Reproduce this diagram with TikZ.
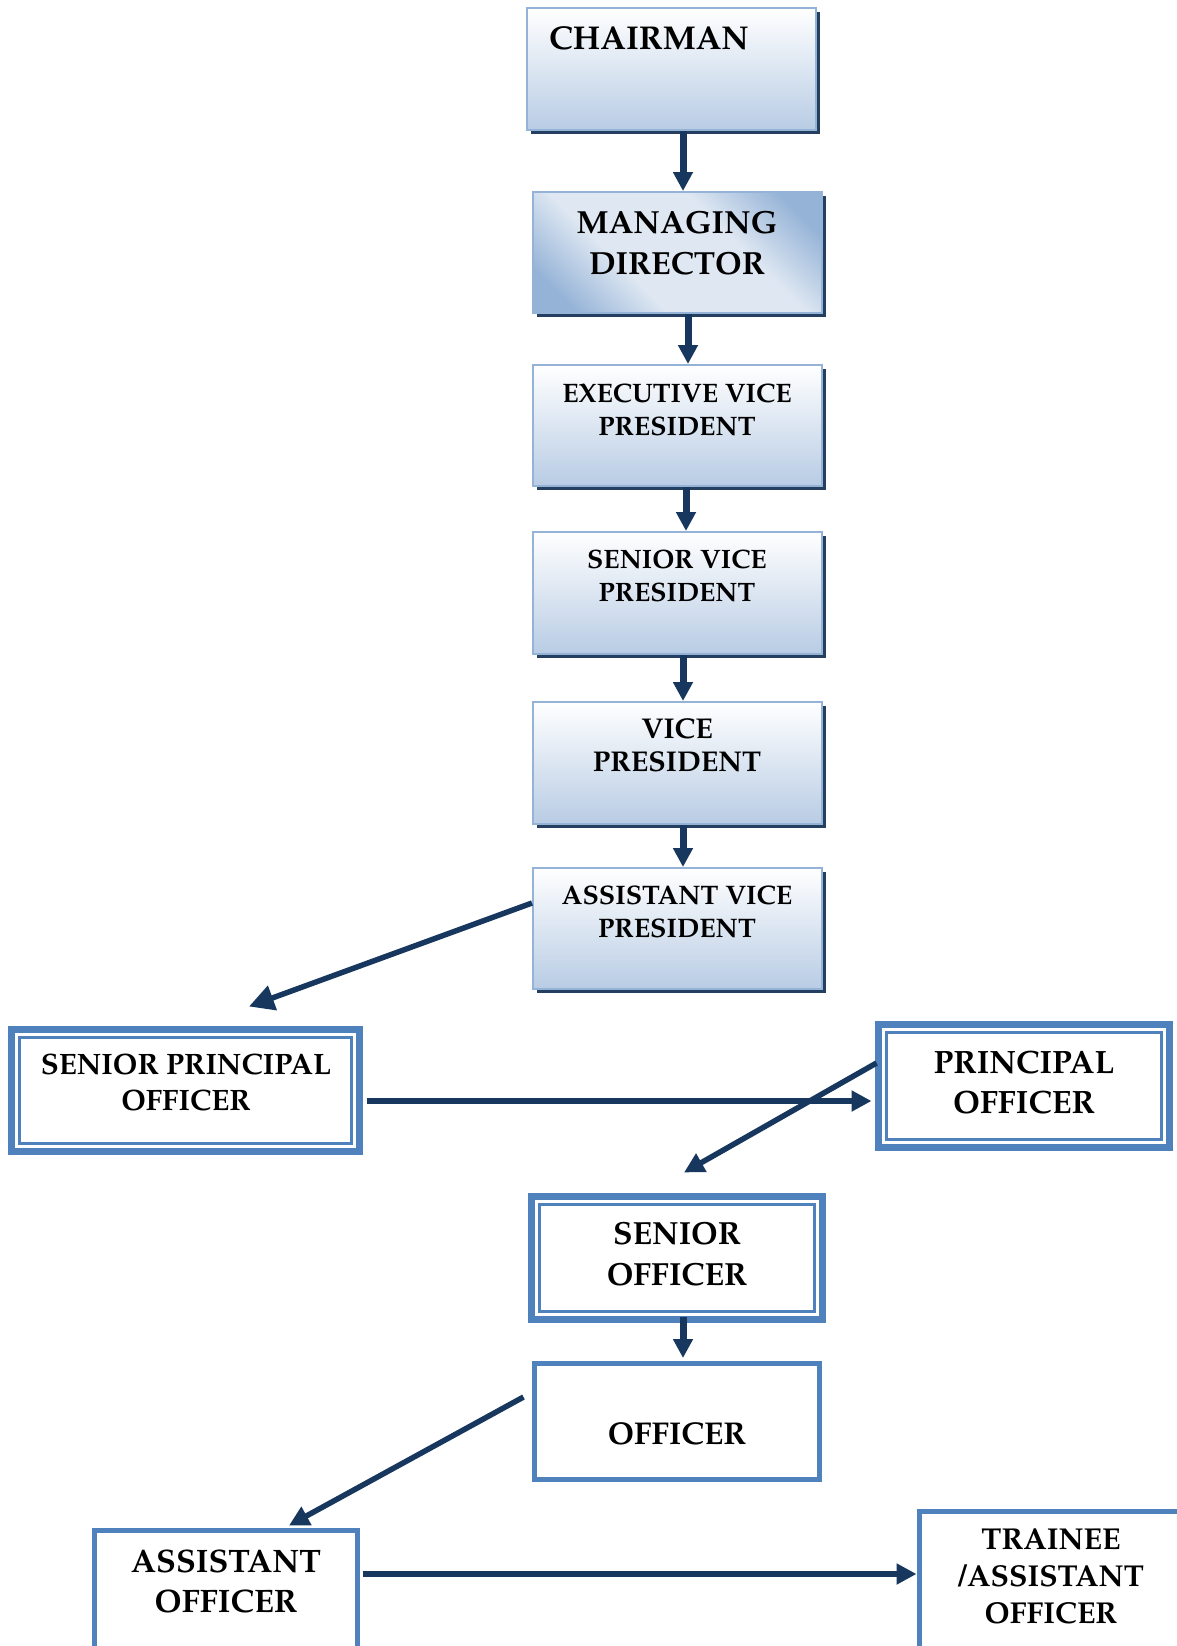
\documentclass[tikz,border=0pt]{standalone}
\usepackage[T1]{fontenc}
\usepackage{mathpazo}
\usetikzlibrary{arrows.meta,calc,shadows}
\definecolor{navy}{RGB}{23,55,94}
\definecolor{shadowc}{RGB}{36,63,96}
\definecolor{obblue}{RGB}{79,129,189}
\definecolor{lborder}{RGB}{149,179,215}
\definecolor{gbot}{RGB}{184,204,228}
\definecolor{mddark}{RGB}{149,179,215}
\definecolor{mdlight}{RGB}{222,231,242}
\pgfdeclareverticalshading{mdshade}{100bp}{color(0bp)=(mddark); color(22bp)=(mddark); color(38bp)=(mdlight); color(62bp)=(mdlight); color(78bp)=(mddark); color(100bp)=(mddark)}
\begin{document}
\begin{tikzpicture}[x=1pt,y=-1pt,
  gbox/.style={rectangle, draw=lborder, line width=2pt, top color=white, bottom color=gbot,
    drop shadow={shadow xshift=4pt, shadow yshift=-4pt, fill=shadowc, opacity=1},
    minimum width=289pt, minimum height=121pt, inner sep=0pt},
  mdbox/.style={gbox, shading=mdshade, shading angle=-45},
  dbox/.style={rectangle, draw=obblue, line width=7pt, fill=white, inner sep=0pt},
  sbox/.style={rectangle, draw=obblue, line width=5pt, fill=white, inner sep=0pt},
  inline/.style={draw=obblue, line width=2.5pt},
  lbl/.style={align=center, inner sep=0pt},
  arr/.style={draw=navy, line width=7pt, -{Triangle[length=19pt,width=19pt]}},
  arrd/.style={draw=navy, line width=5.5pt, -{Triangle[length=20pt,width=20pt]}}
]
\useasboundingbox (0,0) rectangle (1177,1646);
\clip (0,0) rectangle (1177,1646);

% gradient boxes
\node[gbox, minimum height=122pt] (chair) at (671.5,69) {};
\node[mdbox] (md) at (677.5,252.5) {};
\node[gbox] (evp) at (677.5,425.5) {};
\node[gbox, minimum height=122pt] (svp) at (677.5,593) {};
\node[gbox, minimum height=122pt] (vp) at (677.5,763) {};
\node[gbox] (avp) at (677.5,928.5) {};

% double-border boxes
\node[dbox, minimum width=348pt, minimum height=122pt] (spo) at (185.5,1090.5) {};
\draw[inline] ($(spo.north west)+(11.5,11.5)$) rectangle ($(spo.south east)+(-11.5,-11.5)$);
\node[dbox, minimum width=291pt, minimum height=123pt] (po) at (1024,1086) {};
\draw[inline] ($(po.north west)+(11.5,11.5)$) rectangle ($(po.south east)+(-11.5,-11.5)$);
\node[dbox, minimum width=291pt, minimum height=123pt] (so) at (677,1258) {};
\draw[inline] ($(so.north west)+(11.5,11.5)$) rectangle ($(so.south east)+(-11.5,-11.5)$);

% single-border boxes
\node[sbox, minimum width=285pt, minimum height=116pt] (o) at (677,1421.5) {};
\node[sbox, minimum width=263pt, minimum height=129pt] (ao) at (226,1595) {};
\node[sbox, minimum width=265pt, minimum height=148pt] (tao) at (1052,1585) {};

% labels
\node[lbl, font=\fontsize{33}{41}\selectfont\bfseries] (chairT) at (649,38) {CHAIRMAN};
\node[lbl, font=\fontsize{32}{41}\selectfont\bfseries] (mdT) at (677,242.5) {MANAGING\\DIRECTOR};
\node[lbl, font=\fontsize{26.7}{33}\selectfont\bfseries] (evpT) at (677,409.5) {EXECUTIVE VICE\\PRESIDENT};
\node[lbl, font=\fontsize{26.6}{33}\selectfont\bfseries] (svpT) at (677,575.5) {SENIOR VICE\\PRESIDENT};
\node[lbl, font=\fontsize{28.6}{33}\selectfont\bfseries] (vpT) at (677,745.5) {VICE\\PRESIDENT};
\node[lbl, font=\fontsize{26.8}{33}\selectfont\bfseries] (avpT) at (677,911.5) {ASSISTANT VICE\\PRESIDENT};
\node[lbl, font=\fontsize{29.5}{36}\selectfont\bfseries] (spoT) at (186,1082) {SENIOR PRINCIPAL\\OFFICER};
\node[lbl, font=\fontsize{32.3}{40}\selectfont\bfseries] (poT) at (1024,1082) {PRINCIPAL\\OFFICER};
\node[lbl, font=\fontsize{32}{41}\selectfont\bfseries] (soT) at (677,1253.5) {SENIOR\\OFFICER};
\node[lbl, font=\fontsize{31.5}{40}\selectfont\bfseries] (oT) at (677,1434) {OFFICER};
\node[lbl, font=\fontsize{32.5}{40}\selectfont\bfseries] (aoT) at (226,1581) {ASSISTANT\\OFFICER};
\node[lbl, font=\fontsize{30.2}{37}\selectfont\bfseries] (taoT) at (1051,1576) {TRAINEE\\/ASSISTANT\\OFFICER};

% connectors
\draw[arr] ($(chair.south)+(11.5,0)$) -- ($(md.north)+(5.5,0)$);
\draw[arr] ($(md.south)+(10.5,0)$) -- ($(evp.north)+(10.5,0)$);
\draw[arr] ($(evp.south)+(8.5,0)$) -- ($(svp.north)+(8.5,0)$);
\draw[arr] ($(svp.south)+(5.5,0)$) -- ($(vp.north)+(5.5,0)$);
\draw[arr] ($(vp.south)+(5.5,0)$) -- ($(avp.north)+(5.5,0)$);
\draw[arrd, -{Triangle[length=25pt,width=25pt]}] ($(avp.west)+(0,-25.5)$) -- ($(spo.north)+(63.5,-19.5)$);
\draw[arrd] ($(spo.east)+(3.5,10.5)$) -- ($(po.west)+(-3.5,15)$);
\draw[arrd] ($(po.west)+(1.5,-23)$) -- ($(so.north)+(7,-20.5)$);
\draw[arr] ($(so.south)+(6,-6)$) -- ($(o.north)+(6,-3)$);
\draw[arrd] ($(o.west)+(-8.5,-24.5)$) -- ($(ao.north)+(63,-2.5)$);
\draw[arrd] ($(ao.east)+(2.5,-21)$) -- ($(tao.west)+(-0.5,-11)$);
\end{tikzpicture}
\end{document}
